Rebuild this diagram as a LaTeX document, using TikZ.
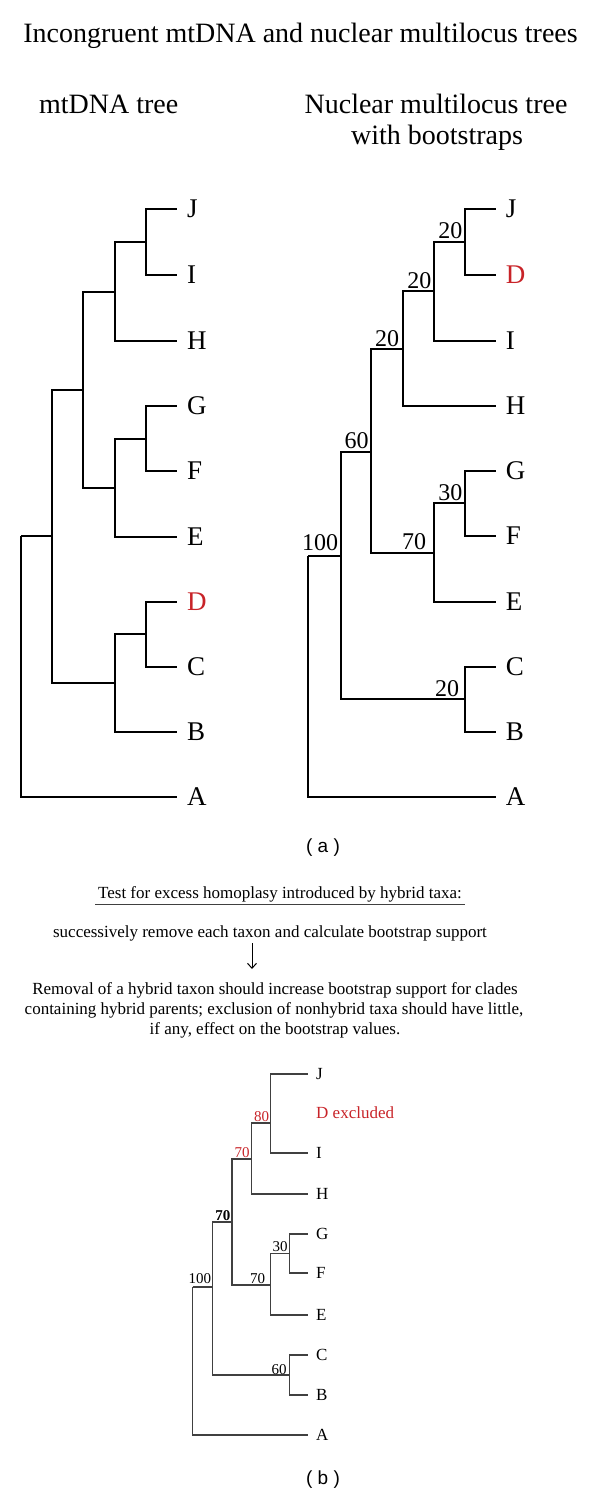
\documentclass[tikz,border=0pt]{standalone}
\usepackage{fontspec}
\setmainfont{Liberation Serif}
\newfontfamily\capsans{Liberation Sans}
\usepackage{tikz}
\usetikzlibrary{arrows.meta,calc}
\definecolor{hybred}{RGB}{200,35,40}

\begin{document}
\begin{tikzpicture}[x=1pt, y=-1pt,
    branch/.style={line width=2pt, line join=miter},
    thinbranch/.style={line width=1.3pt, draw=black!75, line join=miter},
    taxon/.style={anchor=west, inner sep=0pt, xshift=10pt, font=\fontsize{27}{29}\selectfont},
    smalltaxon/.style={anchor=west, inner sep=0pt, xshift=8pt, font=\fontsize{17}{19}\selectfont},
    boot/.style={anchor=south east, inner sep=2.5pt, font=\fontsize{24}{26}\selectfont},
    smallboot/.style={anchor=south east, inner sep=1.5pt, font=\fontsize{15}{17}\selectfont},
    heading/.style={anchor=base, inner sep=0pt, font=\fontsize{28}{30}\selectfont},
    remark/.style={anchor=base, inner sep=0pt, font=\fontsize{17}{19}\selectfont},
    panel/.style={inner sep=0pt, font=\capsans\fontsize{19}{21}\selectfont}]
    \useasboundingbox (0,0) rectangle (600,1496);

    % headings
    \node[heading] (title) at (300.5,43) {Incongruent mtDNA and nuclear multilocus trees};
    \node[heading] (mthead) at (108.7,113) {mtDNA tree};
    \node[heading] (nuchead) at (436,113) {Nuclear multilocus tree};
    \node[heading] (nuchead2) at (437,144) {with bootstraps};

    % mtDNA tree
    \coordinate (mJ) at (177,209);
    \coordinate (mI) at (177,274.5);
    \coordinate (mH) at (177,341);
    \coordinate (mG) at (177,406);
    \coordinate (mF) at (177,471);
    \coordinate (mE) at (177,536.5);
    \coordinate (mD) at (177,601.5);
    \coordinate (mC) at (177,666.5);
    \coordinate (mB) at (177,731.5);
    \coordinate (mA) at (177,796.5);
    \coordinate (mJI) at (146,241.5);
    \coordinate (mJIH) at (115,291.5);
    \coordinate (mGF) at (146,438.5);
    \coordinate (mGFE) at (115,487.5);
    \coordinate (mUp) at (83,389.5);
    \coordinate (mDC) at (146,634);
    \coordinate (mDCB) at (115,682.5);
    \coordinate (mIn) at (52,536);
    \coordinate (mRoot) at (21,536);

    \draw[branch] (mJI) |- (mJ);
    \draw[branch] (mJI) |- (mI);
    \draw[branch] (mJIH) |- (mJI);
    \draw[branch] (mJIH) |- (mH);
    \draw[branch] (mGF) |- (mG);
    \draw[branch] (mGF) |- (mF);
    \draw[branch] (mGFE) |- (mGF);
    \draw[branch] (mGFE) |- (mE);
    \draw[branch] (mUp) |- (mJIH);
    \draw[branch] (mUp) |- (mGFE);
    \draw[branch] (mDC) |- (mD);
    \draw[branch] (mDC) |- (mC);
    \draw[branch] (mDCB) |- (mDC);
    \draw[branch] (mDCB) |- (mB);
    \draw[branch] (mIn) |- (mUp);
    \draw[branch] (mIn) |- (mDCB);
    \draw[branch] (mRoot) |- (mIn);
    \draw[branch] (mRoot) |- (mA);

    \node[taxon] (labmJ) at (mJ) {J};
    \node[taxon] (labmI) at (mI) {I};
    \node[taxon] (labmH) at (mH) {H};
    \node[taxon] (labmG) at (mG) {G};
    \node[taxon] (labmF) at (mF) {F};
    \node[taxon] (labmE) at (mE) {E};
    \node[taxon, text=hybred] (labmD) at (mD) {D};
    \node[taxon] (labmC) at (mC) {C};
    \node[taxon] (labmB) at (mB) {B};
    \node[taxon] (labmA) at (mA) {A};

    % nuclear tree
    \coordinate (nJ) at (495.7,209);
    \coordinate (nD) at (495.7,274.5);
    \coordinate (nI) at (495.7,341);
    \coordinate (nH) at (495.7,406);
    \coordinate (nG) at (495.7,471);
    \coordinate (nF) at (495.7,535.5);
    \coordinate (nE) at (495.7,601.5);
    \coordinate (nC) at (495.7,666.5);
    \coordinate (nB) at (495.7,731.5);
    \coordinate (nA) at (495.7,796.5);
    \coordinate (nJD) at (465,241.5);
    \coordinate (nJDI) at (434,291);
    \coordinate (nJDIH) at (402.7,349);
    \coordinate (nGF) at (465,503);
    \coordinate (nGFE) at (433.7,552.5);
    \coordinate (nSix) at (371.3,451.5);
    \coordinate (nCB) at (464.7,699);
    \coordinate (nMid) at (340.7,556);
    \coordinate (nRoot) at (308,556);

    \draw[branch] (nJD) |- (nJ);
    \draw[branch] (nJD) |- (nD);
    \draw[branch] (nJDI) |- (nJD);
    \draw[branch] (nJDI) |- (nI);
    \draw[branch] (nJDIH) |- (nJDI);
    \draw[branch] (nJDIH) |- (nH);
    \draw[branch] (nGF) |- (nG);
    \draw[branch] (nGF) |- (nF);
    \draw[branch] (nGFE) |- (nGF);
    \draw[branch] (nGFE) |- (nE);
    \draw[branch] (nSix) |- (nJDIH);
    \draw[branch] (nSix) |- (nGFE);
    \draw[branch] (nCB) |- (nC);
    \draw[branch] (nCB) |- (nB);
    \draw[branch] (nMid) |- (nSix);
    \draw[branch] (nMid) |- (nCB);
    \draw[branch] (nRoot) |- (nMid);
    \draw[branch] (nRoot) |- (nA);

    \node[taxon] (labnJ) at (nJ) {J};
    \node[taxon, text=hybred] (labnD) at (nD) {D};
    \node[taxon] (labnI) at (nI) {I};
    \node[taxon] (labnH) at (nH) {H};
    \node[taxon] (labnG) at (nG) {G};
    \node[taxon] (labnF) at (nF) {F};
    \node[taxon] (labnE) at (nE) {E};
    \node[taxon] (labnC) at (nC) {C};
    \node[taxon] (labnB) at (nB) {B};
    \node[taxon] (labnA) at (nA) {A};

    \node[boot] (bsJD) at (nJD) {20};
    \node[boot] (bsJDI) at (nJDI) {20};
    \node[boot, xshift=-1pt] (bsJDIH) at (nJDIH) {20};
    \node[boot] (bsSix) at (nSix) {60};
    \node[boot] (bsGF) at (nGF) {30};
    \node[boot, xshift=-5pt] (bsGFE) at (nGFE) {70};
    \node[boot, yshift=3pt] (bsMid) at (nMid) {100};
    \node[boot, xshift=-3pt] (bsCB) at (nCB) {20};

    \node[panel] (capa) at (323,848) {( a )};

    % test description
    \node[remark, inner sep=2.5pt] (test) at (280,898) {Test for excess homoplasy introduced by hybrid taxa:};
    \draw[line width=1.3pt, draw=black!75] (test.south west) -- (test.south east);
    \node[remark] (succ) at (270,937) {successively remove each taxon and calculate bootstrap support};
    \coordinate (arrtop) at (252,943);
    \coordinate (arrbot) at (252,969);
    \draw[line width=1pt, -{Straight Barb[length=5pt, width=9pt]}] (arrtop) -- (arrbot);
    \node[remark] (para1) at (275,994) {Removal of a hybrid taxon should increase bootstrap support for clades};
    \node[remark] (para2) at (274,1014) {containing hybrid parents; exclusion of nonhybrid taxa should have little,};
    \node[remark] (para3) at (275,1034) {if any, effect on the bootstrap values.};

    % tree after exclusion
    \coordinate (bJ) at (308,1074);
    \coordinate (bI) at (308,1153);
    \coordinate (bH) at (308,1194);
    \coordinate (bG) at (308,1234);
    \coordinate (bF) at (308,1273);
    \coordinate (bE) at (308,1315);
    \coordinate (bC) at (308,1355);
    \coordinate (bB) at (308,1395);
    \coordinate (bA) at (308,1435);
    \coordinate (bJI) at (270.7,1123);
    \coordinate (bJIH) at (251.3,1159);
    \coordinate (bGF) at (289.3,1253.5);
    \coordinate (bGFE) at (270.7,1285);
    \coordinate (bSev) at (232,1222);
    \coordinate (bCB) at (289.3,1375);
    \coordinate (bMid) at (212.7,1287);
    \coordinate (bRoot) at (192.7,1287);

    \draw[thinbranch] (bJI) |- (bJ);
    \draw[thinbranch] (bJI) |- (bI);
    \draw[thinbranch] (bJIH) |- (bJI);
    \draw[thinbranch] (bJIH) |- (bH);
    \draw[thinbranch] (bGF) |- (bG);
    \draw[thinbranch] (bGF) |- (bF);
    \draw[thinbranch] (bGFE) |- (bGF);
    \draw[thinbranch] (bGFE) |- (bE);
    \draw[thinbranch] (bSev) |- (bJIH);
    \draw[thinbranch] (bSev) |- (bGFE);
    \draw[thinbranch] (bCB) |- (bC);
    \draw[thinbranch] (bCB) |- (bB);
    \draw[thinbranch] (bMid) |- (bSev);
    \draw[thinbranch] (bMid) |- (bCB);
    \draw[thinbranch] (bRoot) |- (bMid);
    \draw[thinbranch] (bRoot) |- (bA);

    \node[smalltaxon] (labbJ) at (bJ) {J};
    \node[smalltaxon, text=hybred] (excl) at (308,1113) {D excluded};
    \node[smalltaxon] (labbI) at (bI) {I};
    \node[smalltaxon] (labbH) at (bH) {H};
    \node[smalltaxon] (labbG) at (bG) {G};
    \node[smalltaxon] (labbF) at (bF) {F};
    \node[smalltaxon] (labbE) at (bE) {E};
    \node[smalltaxon] (labbC) at (bC) {C};
    \node[smalltaxon] (labbB) at (bB) {B};
    \node[smalltaxon] (labbA) at (bA) {A};

    \node[smallboot, text=hybred] (bsJI) at (bJI) {80};
    \node[smallboot, text=hybred] (bsJIH) at (bJIH) {70};
    \node[smallboot, font=\fontsize{15}{17}\selectfont\bfseries] (bsSev) at (bSev) {70};
    \node[smallboot] (bsGF) at (bGF) {30};
    \node[smallboot, xshift=-4pt] (bsGFE) at (bGFE) {70};
    \node[smallboot, yshift=2pt] (bsMid) at (bMid) {100};
    \node[smallboot, xshift=-2pt, inner sep=0.5pt] (bsCB) at (bCB) {60};

    \node[panel] (capb) at (323,1480) {( b )};
\end{tikzpicture}
\end{document}
